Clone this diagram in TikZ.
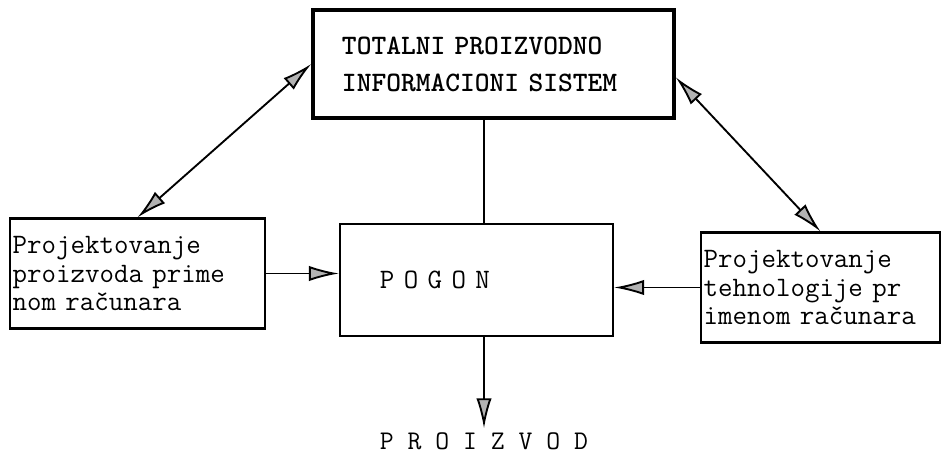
\documentclass[tikz,border=0pt]{standalone}
\usepackage{fontspec}
\usetikzlibrary{arrows.meta}

\begin{document}
\begin{tikzpicture}[x=0.03cm,y=-0.03cm]
\tikzstyle{box}=[rectangle, draw=black, line width=1.8pt, font=\ttfamily\fontsize{24}{24.5}\selectfont]
\tikzstyle{sidebox}=[box, align=left, inner xsep=0.08cm, text width=7.01cm, minimum height=3.3cm]
\tikzstyle{conn}=[line width=1.6pt, >={Latex[length=9mm,width=4.6mm,fill=gray!60]}]
\useasboundingbox (0,0) rectangle (943,457);
\node (tis) [box, line width=3pt, minimum width=10.83cm, minimum height=3.24cm, align=left,
  inner xsep=0.87cm, text width=9.09cm,
  font=\ttfamily\bfseries\fontsize{24}{31.5}\selectfont] at (493.5,64) {TOTALNI PROIZVODNO\\INFORMACIONI SISTEM};
\node (lbox) [sidebox, text width=7.49cm] at (137.5,273.5) {Projektovanje\\proizvoda prime\\nom računara};
\node (pogon) [box, minimum width=8.19cm, minimum height=3.36cm, inner xsep=1.2cm, text width=5.79cm, align=left] at (476.5,280) {P O G O N};
\node (rbox) [sidebox] at (820.5,287.5) {Projektovanje\\tehnologije pr\\imenom računara};
\node (proizvod) [font=\ttfamily\fontsize{23}{23}\selectfont] at (484,441) {P R O I Z V O D};
% veze
\draw [conn,<->] (lbox.north) -- (tis.west);
\draw [conn,<->] ([yshift=-0.4cm]tis.east) -- (rbox.north);
\draw [conn] (tis.south -| proizvod.north) -- (pogon.north -| proizvod.north);
\draw [conn,->] (lbox.east) -- (lbox.east -| pogon.west);
\draw [conn,->] (rbox.west) -- (rbox.west -| pogon.east);
\draw [conn,->] (pogon.south -| proizvod.north) -- (proizvod.north);
\end{tikzpicture}
\end{document}
